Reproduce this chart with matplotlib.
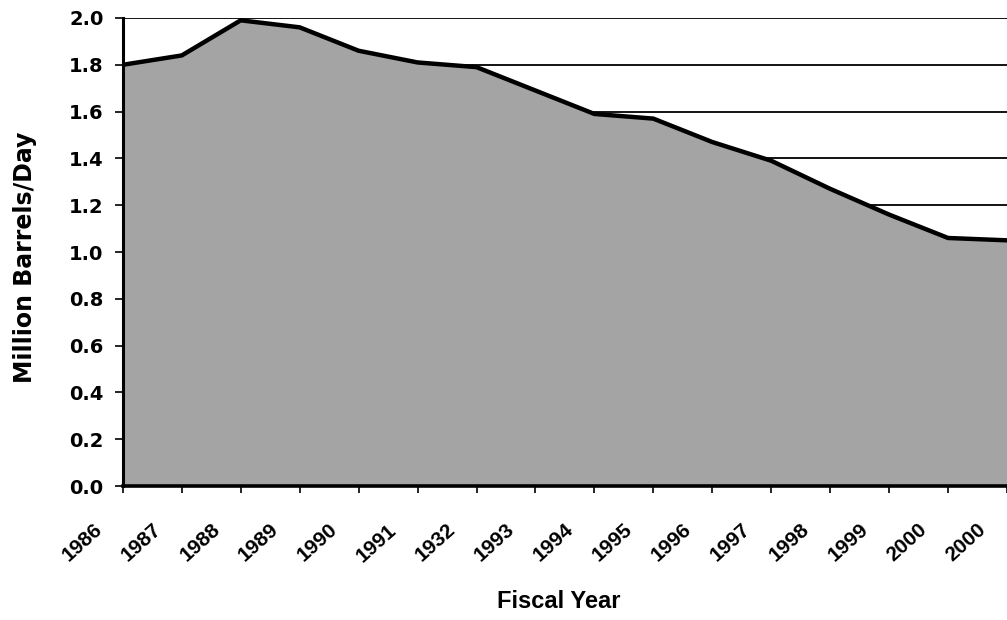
import numpy as np
import matplotlib.pyplot as plt
from matplotlib.transforms import ScaledTranslation

### Data
years = ['1986', '1987', '1988', '1989', '1990', '1991', '1932', '1993',
         '1994', '1995', '1996', '1997', '1998', '1999', '2000', '2000']
barrels = [1.80, 1.84, 1.99, 1.96, 1.86, 1.81, 1.79, 1.69,
           1.59, 1.57, 1.47, 1.39, 1.27, 1.16, 1.06, 1.05]
yticks = [0.0, 0.2, 0.4, 0.6, 0.8, 1.0, 1.2, 1.4, 1.6, 1.8, 2.0]

plt.rcParams['font.family'] = ['DejaVu Sans']
plt.rcParams['font.weight'] = 'bold'

x = np.arange(len(years))

fig = plt.figure(figsize=(10.07, 6.2), dpi=100)
ax = fig.add_axes([0.122, 0.216, 0.878, 0.755])

### Gridlines behind the area
for v in yticks[1:]:
    ax.axhline(v, color='black', lw=1.3, zorder=0)

ax.fill_between(x, barrels, 0, color='#a4a4a4', lw=0, zorder=1)
ax.plot(x, barrels, color='black', lw=3.2, zorder=2, solid_joinstyle='round')

ax.set_xlim(0, len(years) - 1)
ax.set_ylim(0, 2.0)
ax.set_xticks(x)
ax.set_xticklabels([])

### Rotated year labels, set a little left of and below each tick
shift = ScaledTranslation(-30 / 100, -34 / 100, fig.dpi_scale_trans)
for xi, lab in zip(x, years):
    ax.text(xi, 0, lab, transform=ax.get_xaxis_transform() + shift,
            rotation=42, ha='right', va='top', rotation_mode='anchor',
            fontsize=15, fontweight='bold', family='Liberation Sans',
            clip_on=False)

ax.set_yticks(yticks)
ax.set_yticklabels([f'{v:.1f}' for v in yticks], fontsize=14, fontweight='bold')
ax.tick_params(axis='x', direction='out', length=5, width=1.2)
ax.tick_params(axis='y', direction='out', length=6, width=1.2, pad=8)

for s in ['top', 'right']:
    ax.spines[s].set_visible(False)
ax.spines['left'].set_linewidth(2.2)
ax.spines['bottom'].set_linewidth(2.6)
ax.spines['left'].set_zorder(3)
ax.spines['bottom'].set_zorder(3)

fig.text(559 / 1007, 1 - 601 / 620, 'Fiscal Year', ha='center', va='center',
         fontsize=17, fontweight='bold', family='Liberation Sans')
fig.text(25 / 1007, 1 - 257 / 620, 'Million Barrels/Day', ha='center',
         va='center', rotation=90, fontsize=17, fontweight='bold')

fig.savefig('out.png', dpi=100)
